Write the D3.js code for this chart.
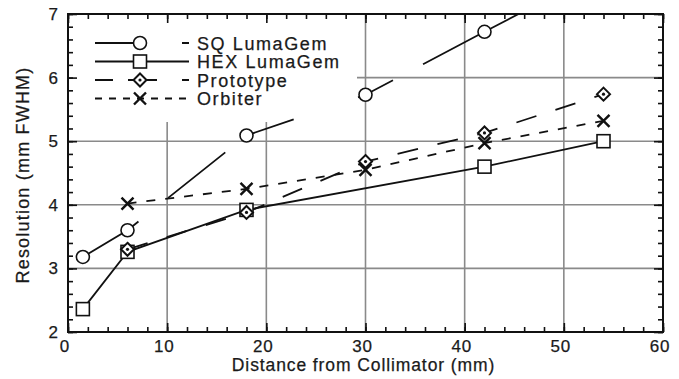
<!DOCTYPE html>
<html>
<head>
<meta charset="utf-8">
<script src="https://cdn.jsdelivr.net/npm/d3@7"></script>
<style>
  html, body { margin: 0; padding: 0; background: #fff; }
  svg { display: block; }
  text { font-family: "Liberation Sans", Arial, Helvetica, sans-serif; fill: #1a1a1a; stroke: #1a1a1a; stroke-width: 0.25px; }
</style>
</head>
<body>
<svg id="chart" width="679" height="379"></svg>
<script>
// Source distances (mm) and FWHM resolution for each detector
const distances = [1.5, 6, 18, 30, 42, 54];
const sqLumaGem = [3.18, 3.6, 5.09, 5.73, 6.72, 7.7];
const hexLumaGem = [2.36, 3.26, 3.92, null, 4.6, 5.0];
const prototype = [null, 3.3, 3.88, 4.68, 5.13, 5.74];
const orbiter = [null, 4.02, 4.25, 4.55, 4.97, 5.32];

const seriesNames = ["SQ LumaGem", "HEX LumaGem", "Prototype", "Orbiter"];
const xTicks = [0, 10, 20, 30, 40, 50, 60];
const yTicks = [2, 3, 4, 5, 6, 7];

const svg = d3.select("#chart");
const plot = { left: 68, right: 663, top: 14, bottom: 332 };

const x = d3.scaleLinear().domain([0, 60]).range([plot.left, plot.right]);
const y = d3.scaleLinear().domain([2, 7]).range([plot.bottom, plot.top]);

const series = [
  { name: seriesNames[0], values: sqLumaGem, marker: "circle", dash: "66,38,73,23,54,68,39,34,400", legendDash: "52,35,7,40" },
  { name: seriesNames[1], values: hexLumaGem, marker: "square", dash: null, legendDash: null },
  { name: seriesNames[2], values: prototype, marker: "diamond", dash: "21,20", legendDash: "18,15,29,25,7,40" },
  { name: seriesNames[3], values: orbiter, marker: "cross", dash: "9,10", legendDash: "7,7" }
];

svg.append("defs").append("clipPath").attr("id", "plot-clip")
  .append("rect")
  .attr("x", plot.left).attr("y", plot.top)
  .attr("width", plot.right - plot.left).attr("height", plot.bottom - plot.top);

// Grid lines
const grid = svg.append("g").attr("stroke", "#8a8a8a").attr("stroke-width", 1.6);
grid.selectAll("line.v").data(xTicks.slice(1, -1)).join("line")
  .attr("x1", d => x(d)).attr("x2", d => x(d))
  .attr("y1", plot.top).attr("y2", plot.bottom);
grid.selectAll("line.h").data(yTicks.slice(1, -1)).join("line")
  .attr("x1", plot.left).attr("x2", plot.right)
  .attr("y1", d => y(d)).attr("y2", d => y(d));

// Legend background hides the grid behind the key
svg.append("rect")
  .attr("x", plot.left + 1).attr("y", plot.top + 1)
  .attr("width", 288).attr("height", 107)
  .attr("fill", "#fff");

// Axes with inward ticks on all four sides
const minorX = d3.range(0, 60.01, 2);
const minorY = d3.range(2, 7.001, 0.2);

function tickAxis(axisFn, scale, values, size) {
  return axisFn(scale).tickValues(values).tickSize(size).tickFormat("");
}
const axes = svg.append("g");
axes.append("g").attr("transform", `translate(0,${plot.bottom})`).call(tickAxis(d3.axisBottom, x, minorX, -5));
axes.append("g").attr("transform", `translate(0,${plot.bottom})`).call(tickAxis(d3.axisBottom, x, xTicks, -9));
axes.append("g").attr("transform", `translate(0,${plot.top})`).call(tickAxis(d3.axisTop, x, minorX, -5));
axes.append("g").attr("transform", `translate(0,${plot.top})`).call(tickAxis(d3.axisTop, x, xTicks, -9));
axes.append("g").attr("transform", `translate(${plot.left},0)`).call(tickAxis(d3.axisLeft, y, minorY, -5));
axes.append("g").attr("transform", `translate(${plot.left},0)`).call(tickAxis(d3.axisLeft, y, yTicks, -9));
axes.append("g").attr("transform", `translate(${plot.right},0)`).call(tickAxis(d3.axisRight, y, minorY, -5));
axes.append("g").attr("transform", `translate(${plot.right},0)`).call(tickAxis(d3.axisRight, y, yTicks, -9));
axes.selectAll(".domain").remove();
axes.selectAll(".tick line").attr("stroke", "#111").attr("stroke-width", 1.6);

// Plot frame
svg.append("rect")
  .attr("x", plot.left).attr("y", plot.top)
  .attr("width", plot.right - plot.left).attr("height", plot.bottom - plot.top)
  .attr("fill", "none").attr("stroke", "#111").attr("stroke-width", 2);

// Tick labels
svg.append("g").selectAll("text").data(xTicks).join("text")
  .attr("x", d => x(d) - 3).attr("y", plot.bottom + 20)
  .attr("text-anchor", "middle").attr("font-size", 17).attr("letter-spacing", 0.8)
  .text(d => d);
svg.append("g").selectAll("text").data(yTicks).join("text")
  .attr("x", plot.left - 10).attr("y", d => y(d) + 6)
  .attr("text-anchor", "end").attr("font-size", 17)
  .text(d => d);

// Axis titles
svg.append("text")
  .attr("x", (plot.left + plot.right) / 2 - 2).attr("y", 371)
  .attr("text-anchor", "middle").attr("font-size", 17.5).attr("letter-spacing", 0.9)
  .text("Distance from Collimator (mm)");
svg.append("text")
  .attr("transform", `translate(29,${(plot.top + plot.bottom) / 2 + 2}) rotate(-90)`)
  .attr("text-anchor", "middle").attr("font-size", 18).attr("letter-spacing", 1.2)
  .text("Resolution (mm FWHM)");

// Marker drawing
function drawMarker(g, kind, cx, cy) {
  if (kind === "circle") {
    g.append("circle").attr("cx", cx).attr("cy", cy).attr("r", 6.5)
      .attr("fill", "#fff").attr("stroke", "#111").attr("stroke-width", 1.6);
  } else if (kind === "square") {
    g.append("rect").attr("x", cx - 6.5).attr("y", cy - 6.5).attr("width", 13).attr("height", 13)
      .attr("fill", "#fff").attr("stroke", "#111").attr("stroke-width", 1.6);
  } else if (kind === "diamond") {
    const r = 6.5;
    g.append("path").attr("d", `M${cx},${cy - r}L${cx + r},${cy}L${cx},${cy + r}L${cx - r},${cy}Z`)
      .attr("fill", "#fff").attr("stroke", "#111").attr("stroke-width", 2);
    g.append("circle").attr("cx", cx).attr("cy", cy).attr("r", 1.6).attr("fill", "#111");
  } else if (kind === "cross") {
    const r = 6;
    g.append("path").attr("d", `M${cx - r},${cy - r}L${cx + r},${cy + r}M${cx - r},${cy + r}L${cx + r},${cy - r}`)
      .attr("fill", "none").attr("stroke", "#111").attr("stroke-width", 2.4);
  }
}

// Series lines
const lineGen = d3.line().x(d => x(d[0])).y(d => y(d[1]));
const linesG = svg.append("g").attr("clip-path", "url(#plot-clip)");
const pointsOf = s => distances.map((d, i) => [d, s.values[i]]).filter(p => p[1] != null);

series.forEach(s => {
  linesG.append("path")
    .attr("d", lineGen(pointsOf(s)))
    .attr("fill", "none").attr("stroke", "#111").attr("stroke-width", 1.8)
    .attr("stroke-dasharray", s.dash);
});

// Series markers
const markersG = svg.append("g").attr("clip-path", "url(#plot-clip)");
series.forEach(s => {
  pointsOf(s).forEach(p => drawMarker(markersG, s.marker, x(p[0]), y(p[1])));
});

// Legend
const legend = svg.append("g");
const legendRows = [43, 61.5, 80, 98.5];
series.forEach((s, i) => {
  const ly = legendRows[i];
  legend.append("line")
    .attr("x1", 95).attr("x2", 189).attr("y1", ly).attr("y2", ly)
    .attr("stroke", "#111").attr("stroke-width", 1.8)
    .attr("stroke-dasharray", s.legendDash);
  drawMarker(legend, s.marker, 140, ly);
  legend.append("text")
    .attr("x", 197).attr("y", ly + 6.5)
    .attr("font-size", 18).attr("letter-spacing", 1.6)
    .text(s.name);
});
</script>
</body>
</html>
